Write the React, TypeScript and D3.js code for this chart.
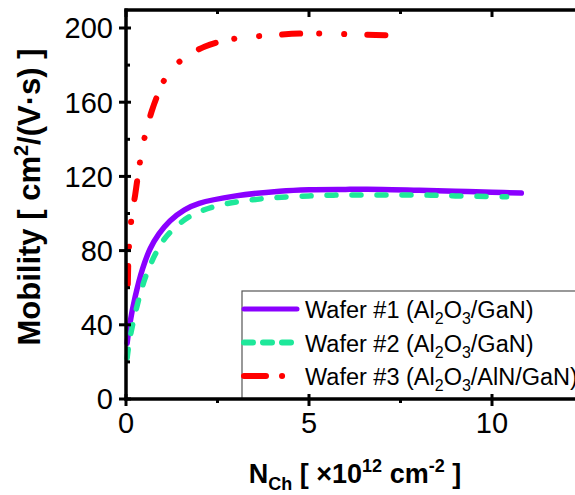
import React from 'react';
import * as d3 from 'd3';

const wafer1X = [0.03, 0.1, 0.25, 0.45, 0.66, 0.9, 1.2, 1.6, 2, 3, 4.2, 5, 6, 7, 8, 9, 10, 10.8];
const wafer1Y = [30, 40, 55, 70, 81, 89, 96, 102, 105.5, 109.5, 112, 112.8, 113, 113, 112.5, 112, 111.5, 111];
const wafer2X = [0.03, 0.1, 0.3, 0.52, 0.8, 1.12, 1.75, 2.57, 3.75, 5, 6, 7, 8, 9, 10.4];
const wafer2Y = [22, 32, 50, 65, 78, 88, 98.5, 104.5, 108, 109.5, 110, 110, 110, 109.5, 109];
const wafer3X = [0.05, 0.07, 0.1, 0.16, 0.25, 0.33, 0.41, 0.52, 0.7, 0.93, 1.17, 1.6, 2.16, 2.76, 3.3, 3.9, 4.75, 5.5, 6.3, 7.5];
const wafer3Y = [62, 78, 87, 99, 110, 121, 131, 142, 155, 167, 176, 184, 190, 193.5, 195, 196, 197, 197, 196.5, 196];

const xMajor = [0, 5, 10];
const xMinor = [2.5, 7.5, 12.5];
const yMajor = [0, 40, 80, 120, 160, 200];
const yMinor = [20, 60, 100, 140, 180];

const seriesNames = ['Wafer #1', 'Wafer #2', 'Wafer #3'];
const seriesMaterials = ['GaN', 'GaN', 'AlN/GaN'];

const FONT = '"Liberation Sans", Arial, sans-serif';

export default function App() {
  const x = d3.scaleLinear().domain([0, 13]).range([126, 601.8]);
  const y = d3.scaleLinear().domain([0, 210]).range([399, 9.45]);
  const mk = (xs: number[], ys: number[]) =>
    d3.line<number>().x((_, i) => x(xs[i])).y((_, i) => y(ys[i])).curve(d3.curveCatmullRom.alpha(0.5))(xs.map((v) => v)) || '';

  const styles = [
    { stroke: '#8a00ff', dash: undefined as string | undefined, w: 5.5 },
    { stroke: '#1ee89a', dash: '9 16', w: 5.5 },
    { stroke: '#ff0000', dash: '18 19 0.1 25 0.1 23', w: 6 },
  ];
  const data = [
    [wafer1X, wafer1Y],
    [wafer2X, wafer2Y],
    [wafer3X, wafer3Y],
  ];
  const legendDash = [undefined, '9 10', '22 16 0.1 30'];

  return (
    <svg width={575} height={495} style={{ position: 'absolute', left: 0, top: 0, background: '#fff' }} fontFamily={FONT}>
      <rect x={0} y={0} width={575} height={495} fill="#fff" />
      {data.map((d, i) => (
        <path
          key={i}
          d={mk(d[0], d[1])}
          fill="none"
          stroke={styles[i].stroke}
          strokeWidth={styles[i].w}
          strokeDasharray={styles[i].dash}
          strokeLinecap="round"
        />
      ))}
      <rect x={242} y={291} width={400} height={108} fill="#fff" stroke="#555" strokeWidth={1.2} />
      {seriesNames.map((n, i) => {
        const ly = 309 + i * 33.5;
        return (
          <g key={n}>
            <line x1={244} x2={297} y1={ly} y2={ly} stroke={styles[i].stroke} strokeWidth={i === 0 ? 5 : 6}
              strokeDasharray={legendDash[i]} strokeLinecap="round" />
            <text x={305} y={ly + 9} fontSize={23.5} fill="#000">
              {n} (Al<tspan dy={6} fontSize={16}>2</tspan>
              <tspan dy={-6}>O</tspan>
              <tspan dy={6} fontSize={16}>3</tspan>
              <tspan dy={-6}>/{seriesMaterials[i]})</tspan>
            </text>
          </g>
        );
      })}
      <line x1={126} x2={126} y1={8.5} y2={400.5} stroke="#000" strokeWidth={3.5} />
      <line x1={124.5} x2={575} y1={399} y2={399} stroke="#000" strokeWidth={3.5} />
      <line x1={124.5} x2={575} y1={10} y2={10} stroke="#000" strokeWidth={3.5} />
      {xMajor.map((v) => (
        <g key={'xm' + v}>
          <line x1={x(v)} x2={x(v)} y1={394} y2={406} stroke="#000" strokeWidth={3} />
          <line x1={x(v)} x2={x(v)} y1={10} y2={17} stroke="#000" strokeWidth={3} />
          <text x={x(v)} y={433} textAnchor="middle" fontSize={29} fill="#000">{v}</text>
        </g>
      ))}
      {xMinor.map((v) => (
        <g key={'xn' + v}>
          <line x1={x(v)} x2={x(v)} y1={399} y2={403} stroke="#000" strokeWidth={3} />
          <line x1={x(v)} x2={x(v)} y1={10} y2={14} stroke="#000" strokeWidth={3} />
        </g>
      ))}
      {yMajor.map((v) => (
        <g key={'ym' + v}>
          <line x1={119} x2={131} y1={y(v)} y2={y(v)} stroke="#000" strokeWidth={3} />
          <text x={113} y={y(v)} dy="0.36em" textAnchor="end" fontSize={29} fill="#000">{v}</text>
        </g>
      ))}
      {yMinor.map((v) => (
        <line key={'yn' + v} x1={126} x2={130} y1={y(v)} y2={y(v)} stroke="#000" strokeWidth={3} />
      ))}
      <text x={355} y={483} textAnchor="middle" fontSize={27} fontWeight="bold" fill="#000">
        N<tspan dy={7} fontSize={18}>Ch</tspan>
        <tspan dy={-7}> [ ×10</tspan>
        <tspan dy={-11} fontSize={18}>12</tspan>
        <tspan dy={11}> cm</tspan>
        <tspan dy={-11} fontSize={18}>-2</tspan>
        <tspan dy={11}> ]</tspan>
      </text>
      <text transform="translate(40,197) rotate(-90)" textAnchor="middle" fontSize={31} fontWeight="bold" fill="#000">
        Mobility [ cm<tspan dy={-12} fontSize={20}>2</tspan>
        <tspan dy={12}>/(V·s) ]</tspan>
      </text>
    </svg>
  );
}
